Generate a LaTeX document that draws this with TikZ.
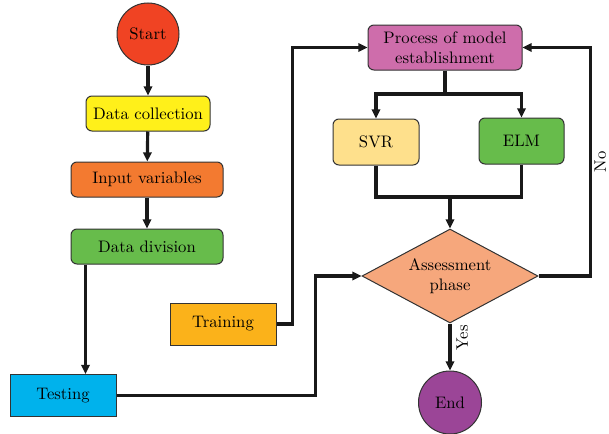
\documentclass[tikz,border=0pt]{standalone}
\usepackage{tikz}
\usetikzlibrary{arrows.meta,shapes.geometric,calc}
\tikzset{>={Triangle[length=5.5pt,width=5pt]}}

\definecolor{startred}{HTML}{F04323}
\definecolor{collyellow}{HTML}{FFF01A}
\definecolor{inorange}{HTML}{F37A30}
\definecolor{divgreen}{HTML}{67BC4B}
\definecolor{trainorange}{HTML}{FBB21A}
\definecolor{testblue}{HTML}{00B2EC}
\definecolor{procpink}{HTML}{CE6DAB}
\definecolor{svryellow}{HTML}{FEE08C}
\definecolor{assesssalmon}{HTML}{F6A77C}
\definecolor{endpurple}{HTML}{9B4597}
\definecolor{edgegray}{HTML}{333333}

\tikzset{
  box/.style={draw=edgegray, line width=0.6pt, rounded corners=3.6pt,
    inner sep=0pt, minimum height=21pt, align=center},
  flatbox/.style={box, rounded corners=0pt, minimum width=63.6pt, minimum height=25.2pt},
  terminal/.style={draw=edgegray, line width=0.6pt, circle, inner sep=0pt},
  link/.style={line width=1.9pt, draw=black!90}
}

\begin{document}
\begin{tikzpicture}[x=0.6pt, y=-0.6pt]
  \useasboundingbox (0,0) rectangle (609,434);

  % left column
  \node[terminal, fill=startred, minimum size=37.2pt] (start) at (148,34) {Start};
  \node[box, fill=collyellow, minimum width=74.4pt] (datacoll) at (148,113.5) {Data collection};
  \node[box, fill=inorange, minimum width=91.2pt] (inputvar) at (147,179.5) {Input variables};
  \node[box, fill=divgreen, minimum width=91.2pt] (datadiv) at (147,246.5) {Data division};
  \node[flatbox, fill=trainorange] (training) at (223,324) {Training};
  \node[flatbox, fill=testblue] (testing) at (63,395.5) {Testing};

  % right part
  \node[box, fill=procpink, minimum width=92.4pt, minimum height=27pt] (process) at (445,47.5)
    {Process of model\\establishment};
  \node[box, fill=svryellow, minimum width=51.6pt, minimum height=27.6pt] (svr) at (376,142) {SVR};
  \node[box, fill=divgreen, minimum width=51pt, minimum height=27.6pt] (elm) at (521.5,141) {ELM};
  \node[diamond, aspect=1.87, draw=edgegray, line width=0.6pt, fill=assesssalmon, inner sep=0pt,
    minimum width=105.6pt, minimum height=56.4pt, align=center] (assess) at (450,276)
    {Assessment\\phase};
  \node[terminal, fill=endpurple, minimum size=37.8pt] (end) at (450,402.5) {End};

  \coordinate (divout) at ($(datadiv.south west)+(15,0)$);
  \coordinate (split) at (445,94);
  \coordinate (merge) at (450,197);

  \draw[link, ->] (start) -- (datacoll);
  \draw[link, ->] (datacoll) -- (inputvar);
  \draw[link, ->] (inputvar) -- (datadiv);
  \draw[link, ->] (divout) -- (divout |- testing.north);
  \draw[link, ->] (testing.east) -- ++(199,0) |- (assess.west);
  \draw[link, ->] (training.east) -- ++(16,0) |- (process.west);

  \draw[link] (process.south) -- (split);
  \draw[link, ->] (split) -| (svr.north);
  \draw[link, ->] (split) -| (elm.north);
  \draw[link] (svr.south) |- (merge);
  \draw[link] (elm.south) |- (merge);
  \draw[link, ->] (merge) -- (assess.north);

  \draw[link, ->] (assess.east) -- ++(52,0) |- node[pos=0.25, rotate=90, anchor=north, inner sep=1.5pt] {No} (process.east);
  \draw[link, ->] (assess.south) -- node[pos=0.3, rotate=90, anchor=north, inner sep=3pt] {Yes} (end);
\end{tikzpicture}
\end{document}
